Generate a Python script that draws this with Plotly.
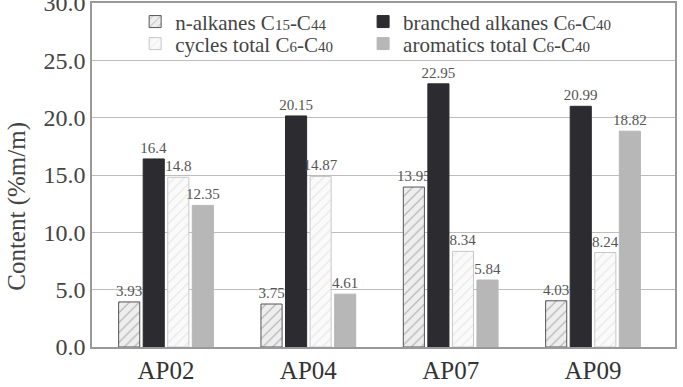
import plotly.graph_objects as go

categories = ["AP02", "AP04", "AP07", "AP09"]
n_alkanes = [3.93, 3.75, 13.95, 4.03]
branched = [16.4, 20.15, 22.95, 20.99]
cycles = [14.8, 14.87, 8.34, 8.24]
aromatics = [12.35, 4.61, 5.84, 18.82]
value_labels = {
    "n": ["3.93", "3.75", "13.95", "4.03"],
    "b": ["16.4", "20.15", "22.95", "20.99"],
    "c": ["14.8", "14.87", "8.34", "8.24"],
    "a": ["12.35", "4.61", "5.84", "18.82"],
}
y_ticks = [0, 5, 10, 15, 20, 25, 30]
y_title = "Content (%m/m)"

SERIF = "Liberation Serif, Times New Roman, serif"
small = "<span style='font-size:15px'>{}</span>"

def name(base, a, b):
    return base + " C" + small.format(a) + "-C" + small.format(b)

fig = go.Figure()
textfont = dict(family=SERIF, size=15, color="#555555")
common = dict(textposition="outside", textfont=textfont, cliponaxis=False, constraintext="none")

fig.add_trace(go.Bar(
    x=categories, y=n_alkanes, name=name("n-alkanes", "15", "44"),
    text=value_labels["n"], legend="legend",
    marker=dict(color="#ededed", line=dict(color="#555555", width=1),
                pattern=dict(shape="/", fgcolor="#666666", bgcolor="#eeeeee", size=7, solidity=0.15)),
    **common,
))
fig.add_trace(go.Bar(
    x=categories, y=branched, name=name("branched alkanes", "6", "40"),
    text=value_labels["b"], legend="legend2",
    marker=dict(color="#2b2b30", line=dict(color="#2b2b30", width=1)),
    **common,
))
fig.add_trace(go.Bar(
    x=categories, y=cycles, name=name("cycles total", "6", "40"),
    text=value_labels["c"], legend="legend3",
    marker=dict(color="#ffffff", line=dict(color="#c8c8c8", width=1),
                pattern=dict(shape="/", fgcolor="#cfcfcf", bgcolor="#fafafa", size=7, solidity=0.15)),
    **common,
))
fig.add_trace(go.Bar(
    x=categories, y=aromatics, name=name("aromatics total", "6", "40"),
    text=value_labels["a"], legend="legend4",
    marker=dict(color="#b7b7b7", line=dict(color="#b7b7b7", width=1)),
    **common,
))

legend_style = dict(
    orientation="h", xanchor="left", yanchor="middle",
    font=dict(family=SERIF, size=21, color="#444444"),
    bgcolor="rgba(0,0,0,0)", tracegroupgap=0,
)

fig.update_layout(
    width=683, height=387,
    margin=dict(l=92, r=8, t=3, b=40, autoexpand=False),
    paper_bgcolor="white", plot_bgcolor="white",
    barmode="group", bargap=0.31, bargroupgap=0.14,
    font=dict(family=SERIF, color="#444444"),
    showlegend=True,
    legend=dict(x=0.074, y=0.945, **legend_style),
    legend2=dict(x=0.465, y=0.945, **legend_style),
    legend3=dict(x=0.074, y=0.881, **legend_style),
    legend4=dict(x=0.465, y=0.881, **legend_style),
    xaxis=dict(
        range=[-0.52, 3.576], showline=True, linecolor="#999999", linewidth=1.5,
        mirror=True, ticks="", tickfont=dict(family=SERIF, size=25, color="#333333"),
        showgrid=False, automargin=False,
    ),
    yaxis=dict(
        range=[0, 30], tickvals=y_ticks, tickformat=".1f", ticklabeloverflow="allow",
        showline=True, linecolor="#999999", linewidth=1.5, mirror=True,
        showgrid=True, gridcolor="#bdbdbd", gridwidth=1.2, zeroline=False,
        ticks="", tickfont=dict(family=SERIF, size=24, color="#444444"),
        automargin=False,
    ),
    annotations=[dict(
        text=y_title, xref="paper", yref="paper", x=-0.129, y=0.41,
        xanchor="center", yanchor="middle", textangle=-90, showarrow=False,
        font=dict(family=SERIF, size=25, color="#444444"),
    )],
)

fig.write_html("out.html")
